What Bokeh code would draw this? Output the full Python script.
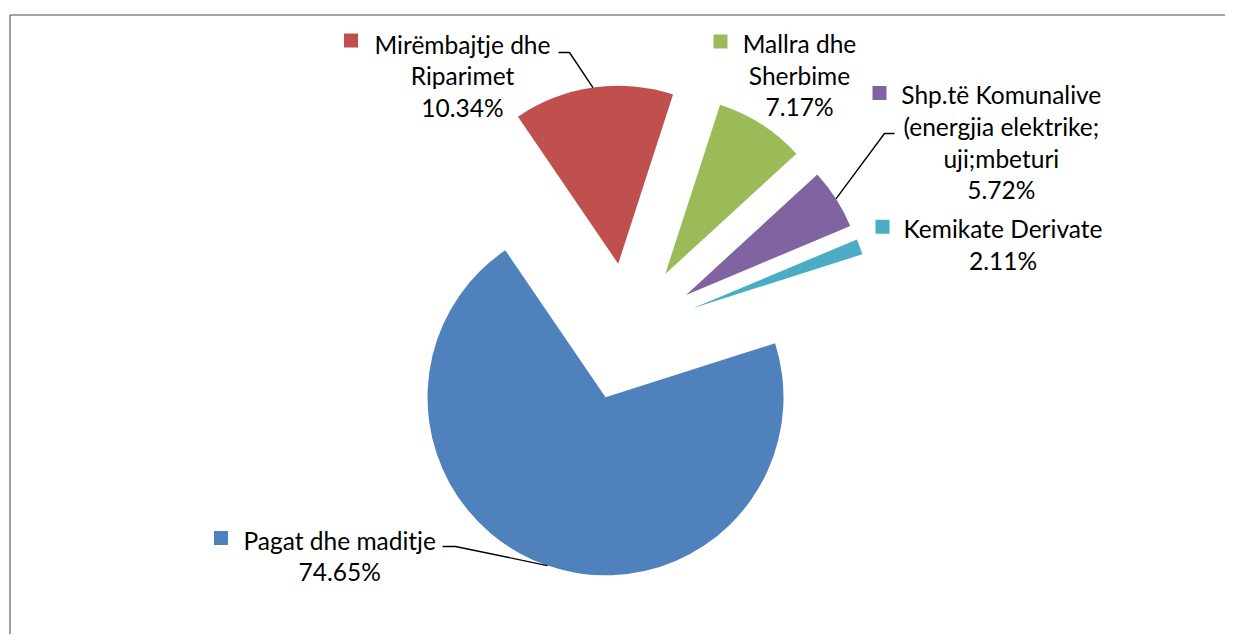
import math
from bokeh.plotting import figure
from bokeh.models import Range1d, ColumnDataSource
from bokeh.embed import file_html
from bokeh.resources import INLINE
from bokeh.core.properties import value

# ---------------- data ----------------
categories = [
    "Pagat dhe maditje",
    "Mirëmbajtje dhe Riparimet",
    "Mallra dhe Sherbime",
    "Shp.të Komunalive (energjia elektrike; uji;mbeturi",
    "Kemikate Derivate",
]
label_lines = [
    ["Pagat dhe maditje"],
    ["Mirëmbajtje dhe", "Riparimet"],
    ["Mallra dhe", "Sherbime"],
    ["Shp.të Komunalive", "(energjia elektrike;", "uji;mbeturi"],
    ["Kemikate Derivate"],
]
percent_labels = ["74.65%", "10.34%", "7.17%", "5.72%", "2.11%"]
# slice sizes as drawn in the picture (share of the full circle, %)
slice_shares = [70.4, 14.5, 8.2, 5.5, 1.4]
colors = ["#4F81BD", "#C0504D", "#9BBB59", "#8064A2", "#4BACC6"]

# ---------------- layout (screen pixels) ----------------
W, H = 1225, 634
OFF = 0
first_slice_angle = 72.3      # degrees clockwise from 12 o'clock (Excel style)
pie_cx, pie_cy = 627.5, 331.6
R = 178
explode = 69
# label blocks: text centre x, first line centre y, key square centre
label_pos = [
    (339.2, 539.5, (220.5, 537.5)),
    (462.0, 43.5, (350.5, 40.0)),
    (799.0, 42.7, (720.0, 41.0)),
    (1000.8, 94.0, (879.0, 92.5)),
    (1002.5, 228.3, (882.0, 226.3)),
]
line_gap = 31.8
TEXT_SHIFT = 8.5   # distance from visual line centre to baseline
# leader lines: label-side points (px), None = no leader
leader_start = [
    [(442, 546), (455, 546)],
    [(558, 52), (569, 52)],
    None,
    [(894, 133), (884, 133)],
    None,
]

FONT = "Lato"
FSIZE = "24.5px"


def Y(py):
    return -py


p = figure(width=W, height=H, output_backend="svg", toolbar_location=None,
           x_range=Range1d(OFF, OFF + W), y_range=Range1d(-(OFF + H), -OFF),
           x_axis_type=None, y_axis_type=None, min_border=0)
p.outline_line_color = None
p.background_fill_color = "white"
p.border_fill_color = "white"

# chart area border (top and left edges visible)
p.segment(x0=[9.5, 9.5], y0=[Y(14.5), Y(14.5)], x1=[OFF + W, 9.5], y1=[Y(14.5), Y(OFF + H)],
          line_color="#878787", line_width=1.6)

# slices
total = sum(slice_shares)
a = math.radians(90 - first_slice_angle)
xs, ys, a0s, a1s, mids = [], [], [], [], []
for s in slice_shares:
    span = s / total * 2 * math.pi
    a0, a1 = a, a - span
    mid = (a0 + a1) / 2
    xs.append(pie_cx + explode * math.cos(mid))
    ys.append(Y(pie_cy) + explode * math.sin(mid))
    a0s.append(a1)
    a1s.append(a0)
    mids.append(mid)
    a = a1

src = ColumnDataSource(dict(x=xs, y=ys, start=a0s, end=a1s, color=colors, name=categories))
p.wedge(x="x", y="y", radius=R, start_angle="start", end_angle="end",
        fill_color="color", line_color=None, source=src)

# leader lines
for i, pts in enumerate(leader_start):
    if pts is None:
        continue
    ex = xs[i] + R * math.cos(mids[i])
    ey = ys[i] + R * math.sin(mids[i])
    lx = [pt[0] for pt in pts] + [ex]
    ly = [Y(pt[1]) for pt in pts] + [ey]
    p.line(lx, ly, line_color="black", line_width=1.4)

# labels
tx, ty, tt = [], [], []
kx, ky, kc = [], [], []
for i, lines in enumerate(label_lines):
    cx, cy, (sqx, sqy) = label_pos[i]
    for j, ln in enumerate(lines + [percent_labels[i]]):
        tx.append(cx)
        ty.append(Y(cy + j * line_gap))
        tt.append(ln)
    kx.append(sqx)
    ky.append(Y(sqy))
    kc.append(colors[i])

p.text(x=tx, y=ty, text=tt, text_font=value(FONT), text_font_size=FSIZE,
       text_align="center", text_baseline="middle", text_color="#000000")
p.scatter(x=kx, y=ky, marker="square", size=14, fill_color=kc, line_color=None)

open("out.html", "w").write(file_html(p, INLINE))
